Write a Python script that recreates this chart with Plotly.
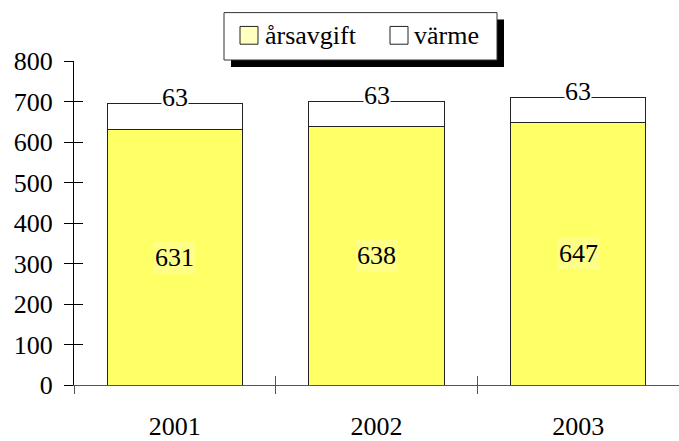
import plotly.graph_objects as go

# ---- data ----
years = ["2001", "2002", "2003"]
arsavgift = [631, 638, 647]
varme = [63, 63, 63]
series_names = ["årsavgift", "värme"]
y_ticks = [0, 100, 200, 300, 400, 500, 600, 700, 800]

# ---- layout geometry ----
W, H = 679, 441
L, R, T, B = 74, 0, 61, 52
PW, PH = W - L - R, H - T - B
FONT = "Liberation Serif"
FS = 26
BAR_YELLOW = "#FFFF66"
LEG_YELLOW = "#FFFFC0"
LABEL_BG = "#FFFF88"


def px_x(x):
    return (x - L) / PW


def px_y(y):
    return (H - B - y) / PH


fig = go.Figure()
fig.add_trace(go.Bar(
    x=years, y=arsavgift, name=series_names[0],
    marker=dict(color=BAR_YELLOW, line=dict(color="#222222", width=1)),
    showlegend=False, hoverinfo="skip",
))
fig.add_trace(go.Bar(
    x=years, y=varme, name=series_names[1],
    marker=dict(color="#FFFFFF", line=dict(color="#222222", width=1)),
    showlegend=False, hoverinfo="skip",
))
# helper trace for overlay axes (inside half of crossing ticks)
fig.add_trace(go.Scatter(
    x=years, y=[None] * len(years), xaxis="x2", yaxis="y2",
    showlegend=False, hoverinfo="skip", mode="markers",
))

annotations = []
for i, (a, v) in enumerate(zip(arsavgift, varme)):
    annotations.append(dict(
        x=i, y=a / 2, xref="x", yref="y", text=str(a), showarrow=False,
        font=dict(family=FONT, size=FS, color="black"),
        bgcolor=LABEL_BG, borderpad=1, yanchor="middle",
    ))
    annotations.append(dict(
        x=i, y=a + v, xref="x", yref="y", text=str(v), showarrow=False,
        font=dict(family=FONT, size=FS, color="black"),
        bgcolor="white", borderpad=0, yanchor="middle", yshift=6,
    ))

# custom legend
leg_x0, leg_x1, leg_y0, leg_y1 = 224, 497, 12, 60
sh = 7
shapes = [
    dict(type="rect", xref="paper", yref="paper",
         x0=px_x(leg_x0 + sh), x1=px_x(leg_x1 + sh),
         y0=px_y(leg_y1 + sh), y1=px_y(leg_y0 + sh),
         fillcolor="black", line=dict(width=0), layer="above"),
    dict(type="rect", xref="paper", yref="paper",
         x0=px_x(leg_x0), x1=px_x(leg_x1),
         y0=px_y(leg_y1), y1=px_y(leg_y0),
         fillcolor="white", line=dict(color="#333333", width=1), layer="above"),
]
legend_items = [(series_names[0], LEG_YELLOW, 240, 263), (series_names[1], "#FFFFFF", 390, 412)]
for name, col, sx, tx in legend_items:
    shapes.append(dict(type="rect", xref="paper", yref="paper",
                       x0=px_x(sx), x1=px_x(sx + 18),
                       y0=px_y(44), y1=px_y(26),
                       fillcolor=col, line=dict(color="#222222", width=1), layer="above"))
    annotations.append(dict(
        x=px_x(tx), y=px_y(35), xref="paper", yref="paper", text=name,
        showarrow=False, xanchor="left", yanchor="middle",
        font=dict(family=FONT, size=FS, color="black"),
    ))

fig.update_layout(
    width=W, height=H,
    margin=dict(l=L, r=R, t=T, b=B, pad=0),
    paper_bgcolor="white", plot_bgcolor="white",
    barmode="stack", bargap=0.33,
    font=dict(family=FONT, size=FS, color="black"),
    showlegend=False,
    xaxis=dict(
        type="category", range=[-0.5, 2.5], tickson="boundaries",
        ticks="outside", ticklen=8, tickcolor="#555555", tickwidth=1,
        showline=True, linecolor="#555555", linewidth=1,
        showgrid=False, zeroline=False, ticklabelstandoff=18,
        tickfont=dict(family=FONT, size=FS, color="black"),
    ),
    yaxis=dict(
        range=[0, 800], tickvals=y_ticks,
        ticks="outside", ticklen=9, tickcolor="black", tickwidth=1,
        showline=True, linecolor="black", linewidth=1,
        showgrid=False, zeroline=False, ticklabelstandoff=6,
        tickfont=dict(family=FONT, size=FS, color="black"),
    ),
    xaxis2=dict(
        type="category", overlaying="x", range=[-0.5, 2.5], tickson="boundaries",
        categoryarray=years,
        ticks="inside", ticklen=9, tickcolor="#555555", tickwidth=1,
        showticklabels=False, showline=False, showgrid=False, zeroline=False,
    ),
    yaxis2=dict(
        overlaying="y", range=[0, 800], tickvals=y_ticks,
        ticks="inside", ticklen=9, tickcolor="black", tickwidth=1,
        showticklabels=False, showline=False, showgrid=False, zeroline=False,
    ),
    shapes=shapes,
    annotations=annotations,
)

fig.write_html("out.html", post_script="document.body.style.margin='0';",
               config={"displayModeBar": False})
